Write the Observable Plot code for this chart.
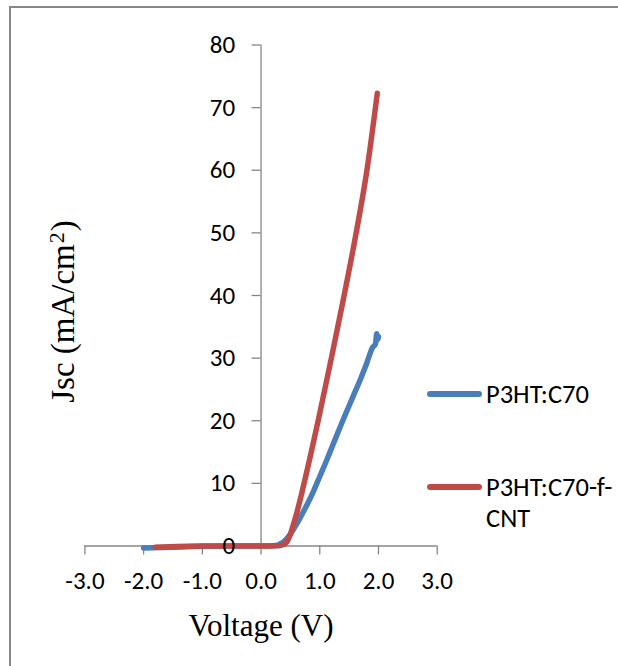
<!DOCTYPE html>
<html><head><meta charset="utf-8">
<script src="https://cdn.jsdelivr.net/npm/d3@7"></script>
<script src="https://cdn.jsdelivr.net/npm/@observablehq/plot@0.6"></script>
<style>
body{margin:0;background:#fff}
#wrap{position:relative;width:618px;height:666px;overflow:hidden;background:#fff}
#frame{position:absolute;left:9px;top:6px;width:700px;height:700px;border-left:2px solid #878787;border-top:2px solid #878787}
#chart{position:absolute;left:0;top:0}
.leg{position:absolute;left:427px;font-family:Carlito,Calibri,Lato,sans-serif;font-size:26.5px;line-height:31px;color:#000;white-space:pre-line}
.leg .sw{position:absolute;left:0;width:55px;height:5.5px;border-radius:3px}
.leg .lb{position:absolute;left:59px;top:0;width:170px}
</style></head><body><div id="wrap"><div id="frame"></div><div id="chart"></div></div>
<script>
// Data
const seriesNames = ["P3HT:C70", "P3HT:C70-f-CNT"];
const seriesColors = ["#4A7EBB", "#BE4B48"];
const voltageBlue = [-2.0, -1.5, -1.0, -0.5, 0.0, 0.2, 0.3, 0.35, 0.4, 0.45, 0.5, 0.6, 0.7, 0.8, 0.9, 1.0, 1.1, 1.2, 1.3, 1.4, 1.5, 1.6, 1.7, 1.8, 1.9, 1.95, 1.97, 1.98, 1.99, 2.0];
const jscBlue     = [-0.3, -0.2, -0.05, 0, 0, 0.05, 0.2, 0.45, 0.8, 1.3, 1.9, 3.4, 5.1, 6.9, 8.9, 11.1, 13.3, 15.6, 17.9, 20.2, 22.4, 24.6, 26.8, 29.2, 31.7, 32.3, 33.9, 33.5, 33.0, 33.4];
const voltageRed  = [-1.8, -1.0, 0.0, 0.3, 0.4, 0.45, 0.5, 0.55, 0.6, 0.7, 0.8, 0.9, 1.0, 1.2, 1.4, 1.6, 1.8, 1.98];
const jscRed      = [-0.2, 0, 0, 0.05, 0.3, 0.8, 1.9, 3.4, 5.0, 8.7, 12.7, 16.9, 21.2, 30.1, 39.3, 49.0, 59.8, 72.3];
const xTicks = [-3, -2, -1, 0, 1, 2, 3];
const yTicks = [0, 10, 20, 30, 40, 50, 60, 70, 80];
const xLabel = "Voltage (V)";
const yLabel = "Jsc (mA/cm\u00B2)";

const blueRows = voltageBlue.map((v, i) => ({v, j: jscBlue[i]}));
const redRows = voltageRed.map((v, i) => ({v, j: jscRed[i]}));

const axisColor = "#868686";
const tickFont = "Carlito, Calibri, Lato, sans-serif";
const serif = "'Liberation Serif', 'Times New Roman', serif";

const chart = Plot.plot({
  width: 618, height: 666,
  marginLeft: 84.4, marginRight: 181.3, marginTop: 44.5, marginBottom: 120.5,
  x: {domain: [-3, 3], axis: null},
  y: {domain: [0, 80], axis: null},
  style: {background: "transparent", fontFamily: tickFont, color: "#000"},
  marks: [
    Plot.ruleY([0], {stroke: axisColor, strokeWidth: 1.3}),
    Plot.ruleX(xTicks, {y1: 0, y2: 0, insetBottom: -9, stroke: axisColor, strokeWidth: 1.3}),
    Plot.ruleX([0], {y1: 0, y2: 80, stroke: axisColor, strokeWidth: 1.3}),
    Plot.ruleY(yTicks, {x1: 0, x2: 0, insetLeft: -9, stroke: axisColor, strokeWidth: 1.3}),
    Plot.line(blueRows, {x: "v", y: "j", stroke: seriesColors[0], strokeWidth: 5.5, strokeLinecap: "round", strokeLinejoin: "round", curve: "monotone-x"}),
    Plot.line(redRows, {x: "v", y: "j", stroke: seriesColors[1], strokeWidth: 5.5, strokeLinecap: "round", strokeLinejoin: "round", curve: "monotone-x"}),
    Plot.text(xTicks, {x: d => d, y: 0, dy: 35, text: d => d.toFixed(1), fontSize: 25, fill: "#000"}),
    Plot.text(yTicks, {x: 0, y: d => d, dx: -26, textAnchor: "end", text: d => String(d), fontSize: 25, fill: "#000"}),
    Plot.text([xLabel], {frameAnchor: "bottom", lineAnchor: "middle", textAnchor: "middle", dy: 80, text: d => d, fontFamily: serif, fontSize: 31, fill: "#000"}),
    Plot.text([yLabel], {frameAnchor: "left", lineAnchor: "middle", textAnchor: "middle", dx: -21.5, dy: 16, rotate: -90, text: d => d, fontFamily: serif, fontSize: 33, fill: "#000"})
  ]
});
document.getElementById("chart").appendChild(chart);

// Render the squared unit with a true superscript "2"
d3.select(chart).selectAll("text").each(function () {
  if (this.textContent === yLabel) {
    const t = d3.select(this);
    t.text(null);
    t.append("tspan").text(yLabel.slice(0, yLabel.indexOf("\u00B2")));
    t.append("tspan").attr("font-size", "22px").attr("dy", "-0.45em").attr("dx", "1").text("2");
    t.append("tspan").attr("dy", "0.3em").attr("dx", "1").text(yLabel.slice(yLabel.indexOf("\u00B2") + 1));
  }
});

// Legend (outside the plotting frame, right side)
const legendCenters = [394, 487];
const wrap = document.getElementById("wrap");
seriesNames.forEach((name, i) => {
  const item = document.createElement("div");
  item.className = "leg";
  item.style.top = (legendCenters[i] - 15.5) + "px";
  const sw = document.createElement("span");
  sw.className = "sw";
  sw.style.background = seriesColors[i];
  sw.style.top = (15.5 - 2.75) + "px";
  const lb = document.createElement("span");
  lb.className = "lb";
  lb.textContent = name.replace("-f-", "-f-\n");
  item.appendChild(sw);
  item.appendChild(lb);
  wrap.appendChild(item);
});
</script>
</body></html>
